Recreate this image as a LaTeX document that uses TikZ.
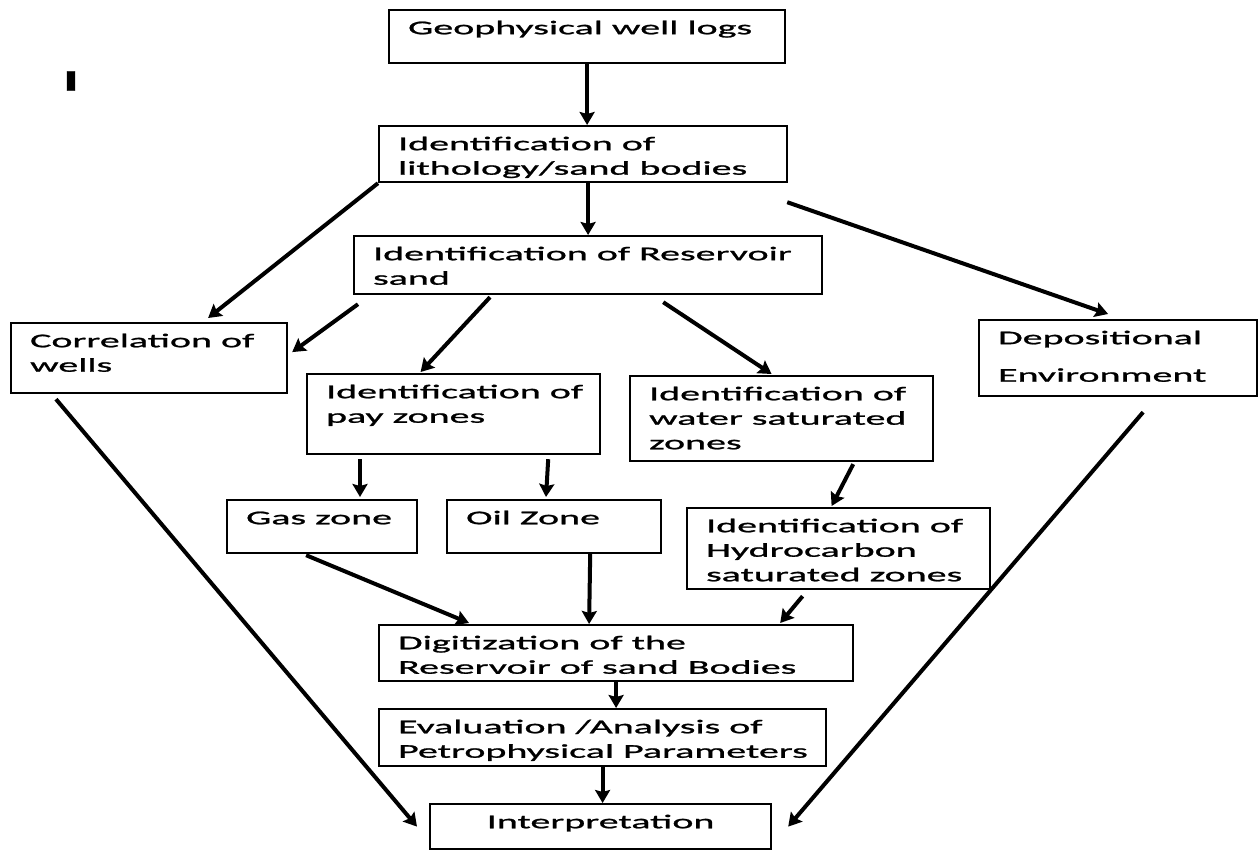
\documentclass[tikz,border=0pt]{standalone}
\usepackage{fontspec}
\usepackage{tikz}
\usetikzlibrary{arrows.meta}
\newfontfamily\logfont[FakeStretch=2.05,FakeBold=1.2]{Carlito}
\newcommand{\boxtext}[3]{\parbox[c][\dimexpr#2-14pt\relax][t]{\dimexpr#1-38pt\relax}{\begin{tabular}[t]{@{}l@{}}#3\end{tabular}}}

\begin{document}
\begin{tikzpicture}[x=1pt, y=-1pt,
    logbox/.style={draw, line width=2.2pt, anchor=north west, inner xsep=19pt, inner ysep=7pt,
        font=\logfont\fontsize{19.5pt}{24.5pt}\selectfont},
    flow/.style={line width=4pt, -{Stealth[length=13pt,width=15pt,inset=2pt]}}]
    \useasboundingbox (0,0) rectangle (1259,850);
    \node[font=\logfont\bfseries\fontsize{30pt}{30pt}\selectfont, inner sep=0pt] (mark) at (71,81) {I};
    \node[logbox] (geo) at (388,9) {\boxtext{396pt}{53pt}{Geophysical well logs}};
    \node[logbox] (litho) at (378,125) {\boxtext{408pt}{56pt}{Identification of\\lithology/sand bodies}};
    \node[logbox] (resv) at (353,235) {\boxtext{468pt}{58pt}{Identification of Reservoir\\sand}};
    \node[logbox] (corr) at (10,322) {\boxtext{276pt}{70pt}{Correlation of\\wells}};
    \node[logbox] (depo) at (978,319) {\boxtext{278pt}{76pt}{Depositional\\[13pt]Environment}};
    \node[logbox] (pay) at (306,373) {\boxtext{293pt}{80pt}{Identification of\\pay zones}};
    \node[logbox] (water) at (629,375) {\boxtext{303pt}{85pt}{Identification of\\water saturated\\zones}};
    \node[logbox] (gas) at (226,499) {\boxtext{190pt}{53pt}{Gas zone}};
    \node[logbox] (oil) at (446,499) {\boxtext{214pt}{53pt}{Oil Zone}};
    \node[logbox] (hydro) at (686,507) {\boxtext{303pt}{81pt}{Identification of\\Hydrocarbon\\saturated zones}};
    \node[logbox] (digit) at (378,624) {\boxtext{474pt}{56pt}{Digitization of the\\Reservoir of sand Bodies}};
    \node[logbox] (eval) at (378,708) {\boxtext{447pt}{57pt}{Evaluation /Analysis of\\Petrophysical Parameters}};
    \node[logbox, inner xsep=0pt] (interp) at (429,803) {\parbox[c][31pt][t]{341pt}{\centering\strut Interpretation}};
    \draw[flow] (geo.south) -- (geo.south |- litho.north);
    \draw[flow] (resv.north |- litho.south) -- (resv.north);
    \draw[flow] (litho.south west) -- ([xshift=59pt,yshift=4pt]corr.north);
    \draw[flow] ([xshift=-1pt,yshift=-19pt]litho.south east) -- ([xshift=-10pt,yshift=5pt]depo.north);
    \draw[flow] ([xshift=5pt,yshift=-9pt]resv.south west) -- ([xshift=4pt,yshift=6pt]corr.east);
    \draw[flow] ([xshift=137pt,yshift=-2pt]resv.south west) -- ([xshift=-33pt,yshift=1pt]pay.north);
    \draw[flow] ([xshift=-160pt,yshift=-7pt]resv.south east) -- ([xshift=-10pt,yshift=1pt]water.north);
    \draw[flow] ([xshift=54pt,yshift=-4pt]pay.south west) -- ([xshift=134pt,yshift=2pt]gas.north west);
    \draw[flow] ([xshift=-53pt,yshift=-4pt]pay.south east) -- ([xshift=100pt,yshift=2pt]oil.north west);
    \draw[flow] ([xshift=-81pt,yshift=-2pt]water.south east) -- ([xshift=-7pt,yshift=1pt]hydro.north);
    \draw[flow] ([xshift=-16pt,yshift=-1pt]gas.south) -- ([xshift=91pt,yshift=1pt]digit.north west);
    \draw[flow] ([xshift=-72pt]oil.south east) -- ([xshift=-27pt]digit.north);
    \draw[flow] ([xshift=-36pt,yshift=-6pt]hydro.south) -- ([xshift=-74pt,yshift=1pt]digit.north east);
    \draw[flow] (digit.south) -- (digit.south |- eval.north);
    \draw[flow] (eval.south) -- (eval.south |- interp.north);
    \draw[flow] ([xshift=46pt,yshift=-5pt]corr.south west) -- ([xshift=-12pt]interp.west);
    \draw[flow] ([xshift=25pt,yshift=-15pt]depo.south) -- ([xshift=16pt]interp.east);
\end{tikzpicture}
\end{document}
